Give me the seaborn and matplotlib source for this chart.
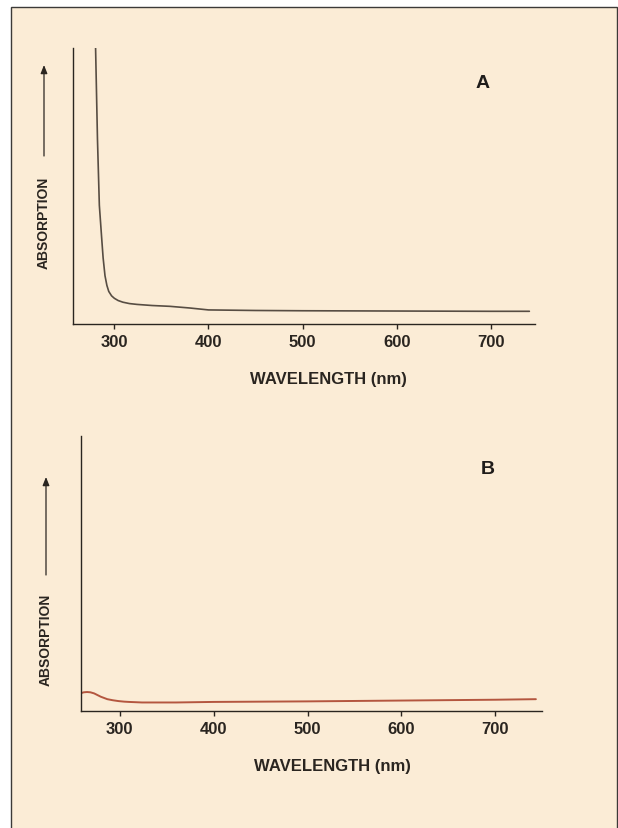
import numpy as np
import pandas as pd
import matplotlib
matplotlib.use('Agg')
import matplotlib.pyplot as plt
from matplotlib.patches import Rectangle, FancyArrowPatch
import seaborn as sns

# spectrum A (steep UV absorption, flat in the visible)
wl_a = [280, 282, 284, 286.5, 288, 290, 292, 294, 297, 300, 304, 309, 316, 324, 340, 359, 380, 400, 450,
        500, 600, 700, 741]
abs_a = [1.0, 0.67, 0.43, 0.31, 0.24, 0.175, 0.140, 0.118, 0.102, 0.093, 0.085, 0.079, 0.074, 0.071, 0.067,
         0.064, 0.058, 0.051, 0.049, 0.048, 0.047, 0.046, 0.046]

# spectrum B (small bump near 265 nm, nearly flat)
wl_b = [259, 262, 265.5, 269, 273, 280, 287, 293, 299, 305, 310, 324, 360, 400, 500, 600, 700, 743]
abs_b = [0.065, 0.068, 0.069, 0.068, 0.064, 0.052, 0.043, 0.039, 0.036, 0.034, 0.033, 0.031, 0.031,
         0.033, 0.035, 0.038, 0.041, 0.043]

ticks = [300, 400, 500, 600, 700]
panel_labels = ['A', 'B']

df_a = pd.DataFrame({'wavelength': wl_a, 'absorption': abs_a})
df_b = pd.DataFrame({'wavelength': wl_b, 'absorption': abs_b})

sns.set_style('ticks')
plt.rcParams['font.family'] = ['Liberation Sans', 'DejaVu Sans']
plt.rcParams['font.weight'] = 'bold'

W, H = 618, 829
bg = '#fbecd6'
ink = '#2a2520'

fig = plt.figure(figsize=(W / 100, H / 100), dpi=100, facecolor='white')

# page frame
fig.patches.append(Rectangle((11, -10), 606, H - 8 + 10, transform=None,
                             facecolor=bg, edgecolor='#3c3a38', linewidth=1.0, zorder=-10))


def px_axes(left, top, right, bottom):
    return fig.add_axes([left / W, 1 - bottom / H, (right - left) / W, (bottom - top) / H])


# panel geometry in image pixels: (left, top, right, bottom), x limits
panels = [
    dict(box=(73, 49, 535, 325), xlim=(256, 747), df=df_a, color='#574d43', lw=1.2,
         label_xy=(483, 83), xl_xy=(328, 380), yl_xy=(44, 223), arrow=(44, 157, 66)),
    dict(box=(81, 437, 542, 712), xlim=(259, 749.5), df=df_b, color='#b4563f', lw=1.4,
         label_xy=(488, 470), xl_xy=(332, 767), yl_xy=(46, 640), arrow=(46, 576, 478)),
]

for p, name in zip(panels, panel_labels):
    ax = px_axes(*p['box'])
    ax.set_facecolor('none')
    ax.set_zorder(5)
    sns.lineplot(data=p['df'], x='wavelength', y='absorption', ax=ax,
                 color=p['color'], linewidth=p['lw'])
    ax.set_xlim(*p['xlim'])
    ax.set_ylim(0, 1)
    ax.set_xticks(ticks)
    ax.set_xticklabels([str(t) for t in ticks], fontsize=12, fontweight='bold', color=ink)
    ax.set_yticks([])
    ax.set_xlabel('')
    ax.set_ylabel('')
    for s in ['top', 'right']:
        ax.spines[s].set_visible(False)
    for s in ['left', 'bottom']:
        ax.spines[s].set_color(ink)
        ax.spines[s].set_linewidth(1.0)
    ax.tick_params(axis='x', length=3.5, width=1.0, color=ink, pad=4, direction='out')

    # panel letter
    fig.text(p['label_xy'][0] / W, 1 - p['label_xy'][1] / H, name, fontsize=14,
             fontweight='bold', color='#1f1c1a', ha='center', va='center')
    # axis titles
    fig.text(p['xl_xy'][0] / W, 1 - p['xl_xy'][1] / H, 'WAVELENGTH (nm)', fontsize=12,
             fontweight='bold', color=ink, ha='center', va='center')
    fig.text(p['yl_xy'][0] / W, 1 - p['yl_xy'][1] / H, 'ABSORPTION', fontsize=10,
             fontweight='bold', color=ink, ha='center', va='center', rotation=90)
    ax_x, y0, y1 = p['arrow']
    fig.add_artist(FancyArrowPatch(
        (ax_x, H - y0), (ax_x, H - y1), transform=None, arrowstyle='-|>,head_length=5,head_width=2',
        color=ink, linewidth=0.9, shrinkA=0, shrinkB=0))

fig.savefig('out.png', dpi=100, facecolor='white')
